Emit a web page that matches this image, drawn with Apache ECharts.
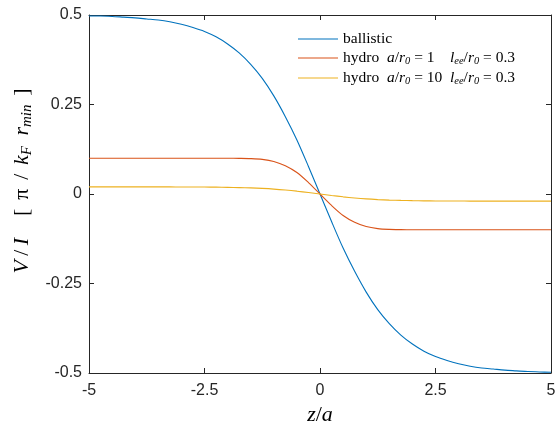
<!DOCTYPE html>
<html><head><meta charset="utf-8">
<script src="https://cdn.jsdelivr.net/npm/echarts@6/dist/echarts.min.js"></script>
<style>html,body{margin:0;padding:0;background:#fff}#c{width:559px;height:426px}</style>
</head><body><div id="c"></div>
<script>
const zValues = [-5,-4.75,-4.5,-4.25,-4,-3.75,-3.5,-3.25,-3,-2.75,-2.5,-2.25,-2,-1.75,-1.5,-1.25,-1,-0.75,-0.5,-0.25,0,
  0.25,0.5,0.75,1,1.25,1.5,1.75,2,2.25,2.5,2.75,3,3.25,3.5,3.75,4,4.25,4.5,4.75,5];
const ballistic = [0.497,0.497,0.496,0.494,0.492,0.489,0.486,0.481,0.474,0.465,0.454,0.439,0.419,0.394,0.362,0.323,0.274,0.216,0.151,0.077,0,
  -0.077,-0.151,-0.216,-0.274,-0.323,-0.362,-0.394,-0.419,-0.439,-0.454,-0.465,-0.474,-0.481,-0.486,-0.489,-0.492,-0.494,-0.496,-0.497,-0.498];
const hydro1 = [0.100,0.100,0.100,0.100,0.100,0.100,0.100,0.100,0.100,0.100,0.100,0.0999,0.0998,0.0995,0.0988,0.0967,0.0910,0.0790,0.0600,0.0320,0,
  -0.0320,-0.0600,-0.0790,-0.0910,-0.0967,-0.0988,-0.0995,-0.0998,-0.0999,-0.100,-0.100,-0.100,-0.100,-0.100,-0.100,-0.100,-0.100,-0.100,-0.100,-0.100];
const hydro10 = [0.0200,0.0200,0.0200,0.0200,0.0200,0.0199,0.0199,0.0198,0.0197,0.0196,0.0194,0.0191,0.0186,0.0179,0.0170,0.0156,0.0137,0.0111,0.0079,0.0041,0,
  -0.0041,-0.0079,-0.0111,-0.0137,-0.0156,-0.0170,-0.0179,-0.0186,-0.0191,-0.0194,-0.0196,-0.0197,-0.0198,-0.0199,-0.0199,-0.0200,-0.0200,-0.0200,-0.0200,-0.0200];
const xTicks = [-5,-2.5,0,2.5,5];
const yTicks = [-0.5,-0.25,0,0.25,0.5];
const seriesNames = ['ballistic','hydro a/r0=1 lee/r0=0.3','hydro a/r0=10 lee/r0=0.3'];
const colors = ['#0072BD','#D95319','#EDB120'];

const pair = arr => zValues.map((z,i)=>[z,arr[i]]);
const legendRich = {
  '0': 'ballistic',
  '1': 'hydro  {m|a}{t|/}{m|r}{s|0}{t| = 1    }{m|l}{s|ee}{t|/}{m|r}{s|0}{t| = 0.3}',
  '2': 'hydro  {m|a}{t|/}{m|r}{s|0}{t| = 10  }{m|l}{s|ee}{t|/}{m|r}{s|0}{t| = 0.3}'
};
const serifL = '"Liberation Serif", serif';
const axisCol = '#262626';
const chart = echarts.init(document.getElementById('c'), null, {renderer:'canvas'});
const hs = '\u2009';
const yName = '{m|V'+hs+'}{t|/}{m|'+hs+'I}{t|    ['+hs+hs+'π'+hs+hs+'/'+hs+hs+'}{m|k}{s|F'+hs+hs+'}{m|'+hs+'r}{s|min}{t|'+hs+hs+']}';
chart.setOption({
  animation:false,
  color: colors,
  grid:{left:89,right:8,top:15,bottom:53,show:false,outerBoundsMode:'none',containLabel:false},
  legend:{
    left:293, top:26, orient:'vertical', itemWidth:40, itemHeight:10, itemGap:3,
    icon:'path://M0,4.5 L40,4.5 L40,5.5 L0,5.5 Z',
    data: seriesNames,
    formatter: name => legendRich[String(seriesNames.indexOf(name))],
    textStyle:{fontFamily:serifL, fontSize:15.5, color:'#000',
      rich:{
        m:{fontFamily:serifL, fontStyle:'italic', fontSize:15.5, color:'#000'},
        t:{fontFamily:serifL, fontSize:15.5, color:'#000'},
        s:{fontFamily:serifL, fontStyle:'italic', fontSize:10.5, color:'#000', padding:[7,0,0,0]}
      }}
  },
  xAxis:[{
    type:'value', min:-5, max:5, interval:2.5,
    name:'{m|z}{t|/}{m|a}', nameLocation:'middle', nameGap:30,
    nameTextStyle:{rich:{m:{fontFamily:serifL,fontStyle:'italic',fontSize:22,color:'#000'},t:{fontFamily:serifL,fontSize:22,color:'#000'}}},
    axisLine:{show:true,onZero:false,lineStyle:{color:axisCol,width:1}},
    axisTick:{show:true,inside:true,length:5,lineStyle:{color:axisCol}},
    axisLabel:{color:axisCol,fontFamily:'"Liberation Sans", Arial, sans-serif',fontSize:16,margin:10,
      formatter: v => xTicks.includes(v) ? String(v) : ''},
    splitLine:{show:false}
  },{
    type:'value', min:-5, max:5, interval:2.5, position:'top',
    axisLine:{show:true,onZero:false,lineStyle:{color:axisCol,width:1}},
    axisTick:{show:true,inside:true,length:5,lineStyle:{color:axisCol}},
    axisLabel:{show:false}, splitLine:{show:false}
  }],
  yAxis:[{
    type:'value', min:-0.5, max:0.5, interval:0.25,
    name:yName, nameLocation:'middle', nameGap:52, nameRotate:90,
    nameTextStyle:{padding:[0,0,0,26],rich:{
      m:{fontFamily:serifL,fontStyle:'italic',fontSize:22,color:'#000'},
      t:{fontFamily:serifL,fontSize:22,color:'#000'},
      s:{fontFamily:serifL,fontStyle:'italic',fontSize:15,color:'#000',padding:[9,0,0,0]}
    }},
    axisLine:{show:true,onZero:false,lineStyle:{color:axisCol,width:1}},
    axisTick:{show:true,inside:true,length:5,lineStyle:{color:axisCol}},
    axisLabel:{color:axisCol,fontFamily:'"Liberation Sans", Arial, sans-serif',fontSize:16,margin:7,
      formatter: v => yTicks.includes(v) ? String(v) : ''},
    splitLine:{show:false}
  },{
    type:'value', min:-0.5, max:0.5, interval:0.25, position:'right',
    axisLine:{show:true,onZero:false,lineStyle:{color:axisCol,width:1}},
    axisTick:{show:true,inside:true,length:5,lineStyle:{color:axisCol}},
    axisLabel:{show:false}, splitLine:{show:false}
  }],
  series:[
    {name:seriesNames[0],type:'line',data:pair(ballistic),showSymbol:false,symbol:'none',smooth:0.3,lineStyle:{width:1.1,color:colors[0]}},
    {name:seriesNames[1],type:'line',data:pair(hydro1),showSymbol:false,symbol:'none',smooth:0.3,lineStyle:{width:1.1,color:colors[1]}},
    {name:seriesNames[2],type:'line',data:pair(hydro10),showSymbol:false,symbol:'none',smooth:0.3,lineStyle:{width:1.1,color:colors[2]}}
  ]
});
</script></body></html>
